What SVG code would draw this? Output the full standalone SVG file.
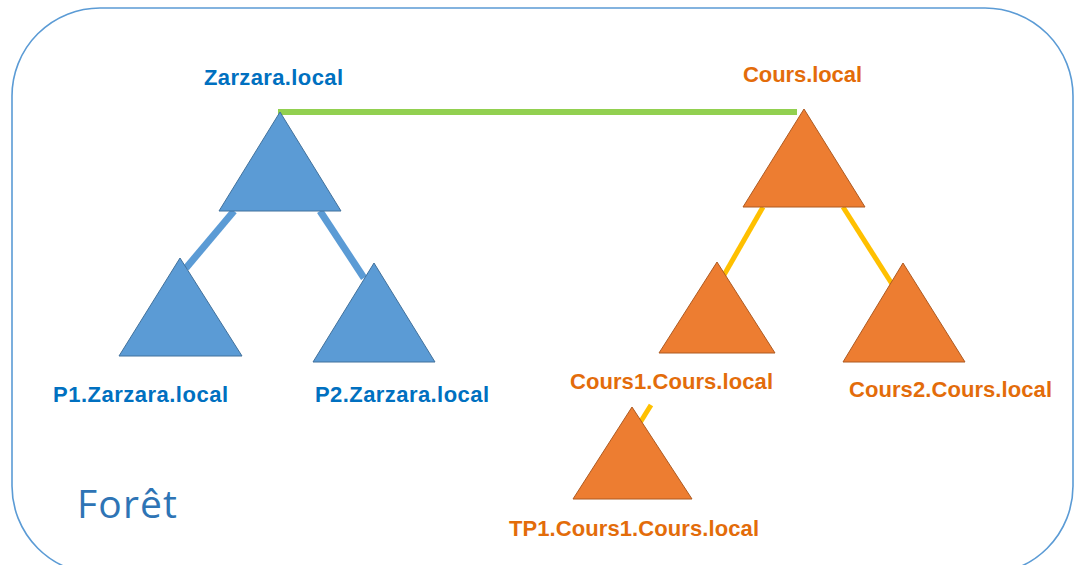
<svg xmlns="http://www.w3.org/2000/svg" width="1074" height="565" viewBox="0 0 1074 565">
  <style>
    .frame { fill: #ffffff; stroke: #5b9bd5; stroke-width: 1.6; }
    .blue-tri { fill: #5b9bd5; stroke: #41719c; stroke-width: 1; }
    .orange-tri { fill: #ed7d31; stroke: #ae5a21; stroke-width: 1; }
    .trust { stroke: #92d050; stroke-width: 6; fill: none; }
    .link-blue { stroke: #5b9bd5; stroke-width: 7; fill: none; }
    .link-yellow { stroke: #ffc000; stroke-width: 5; fill: none; }
    .lbl { font-family: "Liberation Sans", Arial, sans-serif; font-weight: bold; font-size: 22px; }
    .lbl-blue { fill: #0070c0; }
    .lbl-orange { fill: #e36c0a; }
    .title { font-family: "Open Sans", "Liberation Sans", sans-serif; font-size: 39px; fill: #2e74b5; }
  </style>

  <rect width="1074" height="565" fill="#ffffff"/>

  <!-- forest boundary -->
  <rect class="frame" x="12" y="8" width="1061" height="566" rx="88" ry="88"/>
  <text class="title" x="77" y="518" textLength="100">Forêt</text>

  <!-- connectors -->
  <g id="connectors">
    <line class="trust" x1="278" y1="112" x2="797" y2="112"/>
    <line class="link-blue" x1="234" y1="211" x2="186" y2="268"/>
    <line class="link-blue" x1="320" y1="211" x2="364" y2="278"/>
    <line class="link-yellow" x1="763" y1="207" x2="724" y2="275"/>
    <line class="link-yellow" x1="843" y1="207" x2="892" y2="284"/>
    <line class="link-yellow" x1="651" y1="405" x2="638" y2="426"/>
  </g>

  <!-- Zarzara.local tree -->
  <g id="zarzara">
    <polygon class="blue-tri" points="280,112 219,211 341,211"/>
    <text class="lbl lbl-blue" x="204" y="85" textLength="139">Zarzara.local</text>
  </g>
  <g id="p1-zarzara">
    <polygon class="blue-tri" points="180,258 119,356 242,356"/>
    <text class="lbl lbl-blue" x="53" y="402" textLength="175">P1.Zarzara.local</text>
  </g>
  <g id="p2-zarzara">
    <polygon class="blue-tri" points="374,263 313,362 435,362"/>
    <text class="lbl lbl-blue" x="315" y="402" textLength="174">P2.Zarzara.local</text>
  </g>

  <!-- Cours.local tree -->
  <g id="cours">
    <polygon class="orange-tri" points="804,109 743,207 865,207"/>
    <text class="lbl lbl-orange" x="743" y="82" textLength="119">Cours.local</text>
  </g>
  <g id="cours1">
    <polygon class="orange-tri" points="717,262 659,353 775,353"/>
    <text class="lbl lbl-orange" x="570" y="389" textLength="203">Cours1.Cours.local</text>
  </g>
  <g id="cours2">
    <polygon class="orange-tri" points="903,263 843,362 965,362"/>
    <text class="lbl lbl-orange" x="849" y="397" textLength="203">Cours2.Cours.local</text>
  </g>
  <g id="tp1-cours1">
    <polygon class="orange-tri" points="632,407 573,499 692,499"/>
    <text class="lbl lbl-orange" x="509" y="536" textLength="250">TP1.Cours1.Cours.local</text>
  </g>
</svg>
